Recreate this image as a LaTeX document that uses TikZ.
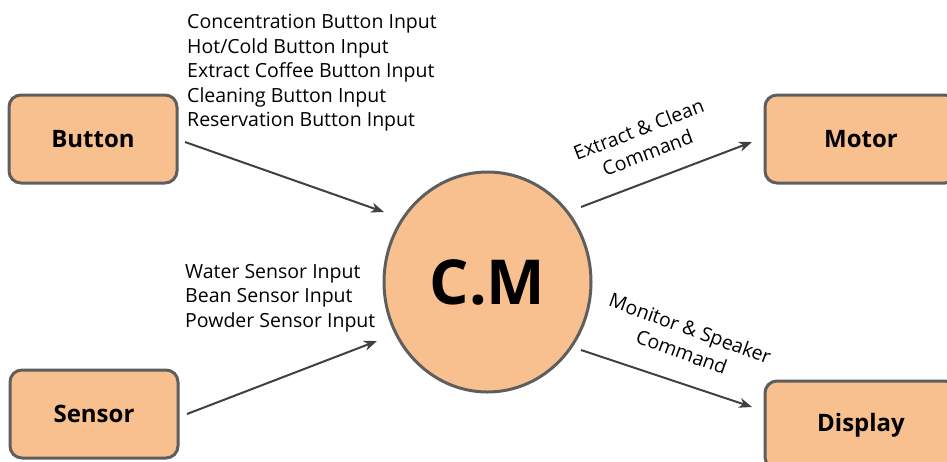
\documentclass[tikz,border=0pt]{standalone}
\usepackage{fontspec}
\setmainfont{Open Sans}
\usetikzlibrary{arrows.meta,shapes.geometric}
\definecolor{boxfill}{HTML}{F9C08F}
\definecolor{boxline}{HTML}{5E5E5E}
\definecolor{arrline}{HTML}{404040}
\tikzset{
  blk/.style={draw=boxline,line width=3pt,fill=boxfill,rounded corners=12pt,
    minimum width=168pt,minimum height=88pt,inner sep=0pt,
    font=\fontsize{24}{28}\selectfont\bfseries},
  arr/.style={draw=arrline,line width=2pt,-{Stealth[length=13pt,width=10pt,inset=4pt]}},
  lbl/.style={align=left,anchor=north west,inner sep=0pt,font=\fontsize{19.5}{24.5}\selectfont},
  rlbl/.style={align=center,inner sep=0pt,font=\fontsize{19.5}{25}\selectfont}
}
\begin{document}
\begin{tikzpicture}[x=1pt,y=-1pt]
\useasboundingbox (0,0) rectangle (947,461);
\node[blk] (button) at (93,139) {Button};
\node[blk] (sensor) at (94,414) {Sensor};
\node[blk,minimum width=192pt] (motor) at (861,139) {Motor};
\node[blk,minimum width=192pt] (display) at (861,425) {Display};
\node[ellipse,draw=boxline,line width=3pt,fill=boxfill,minimum width=207pt,minimum height=220pt,inner sep=0pt,
  font=\fontsize{62}{70}\selectfont\bfseries] (cm) at (487.5,282) {C.M};
\coordinate (b1) at (185,142);
\coordinate (b2) at (384,212);
\coordinate (s1) at (187,414);
\coordinate (s2) at (377,341);
\coordinate (m1) at (581,207);
\coordinate (m2) at (752,142);
\coordinate (d1) at (581,350);
\coordinate (d2) at (752,407);
\draw[arr] (b1) -- (b2);
\draw[arr] (s1) -- (s2);
\draw[arr] (m1) -- (m2);
\draw[arr] (d1) -- (d2);
\node[lbl] (blabel) at (187,14) {Concentration Button Input\\Hot/Cold Button Input\\Extract Coffee Button Input\\Cleaning Button Input\\Reservation Button Input};
\node[lbl] (slabel) at (185,264) {Water Sensor Input\\Bean Sensor Input\\Powder Sensor Input};
\node[rlbl,rotate=21] (mlabel) at (643,141) {Extract \& Clean\\Command};
\node[rlbl,rotate=-20] (dlabel) at (686,340) {Monitor \& Speaker\\Command};
\end{tikzpicture}
\end{document}
